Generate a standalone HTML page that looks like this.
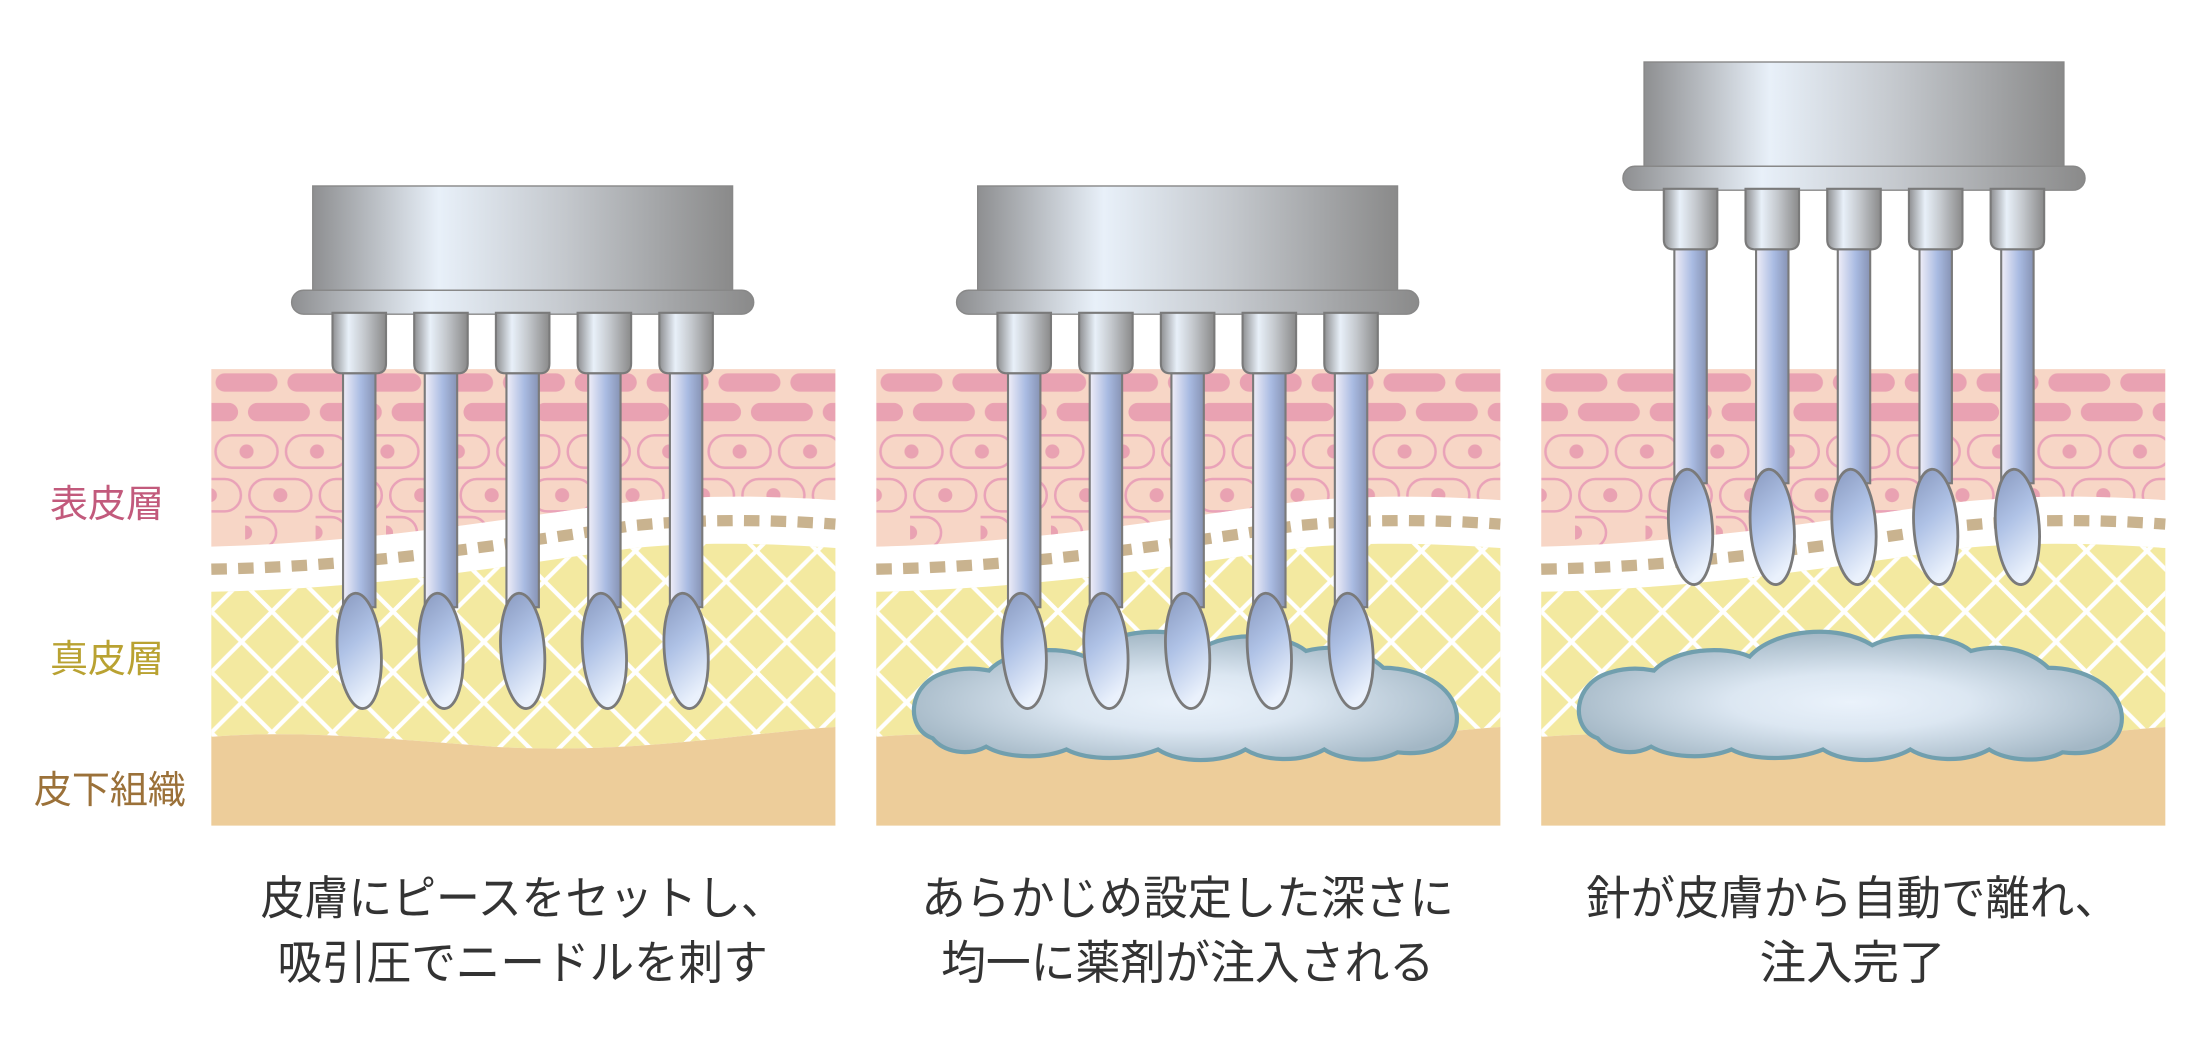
<!DOCTYPE html>
<html><head><meta charset="utf-8"><style>
html,body{margin:0;padding:0;background:#fff;}
svg{display:block;}
</style></head><body>
<svg width="2209" height="1042" viewBox="0 0 1568 739.6" xmlns="http://www.w3.org/2000/svg">
<defs>
<linearGradient id="metal" x1="0" x2="1" y1="0" y2="0">
<stop offset="0" stop-color="#8e8f91"/><stop offset="0.3" stop-color="#e8f0f9"/><stop offset="0.6" stop-color="#c4c8cd"/><stop offset="1" stop-color="#8a8a8a"/>
</linearGradient>
<linearGradient id="shaft" x1="0" x2="1">
<stop offset="0" stop-color="#f0eef8"/><stop offset="0.55" stop-color="#a9bbe2"/><stop offset="1" stop-color="#8793b4"/>
</linearGradient>
<linearGradient id="bevel" x1="0" y1="0" x2="0.3" y2="1">
<stop offset="0" stop-color="#8797bd"/><stop offset="0.5" stop-color="#afc2e6"/><stop offset="1" stop-color="#eaf1fc"/>
</linearGradient>
<radialGradient id="cloudg" cx="0.5" cy="0.55" r="0.55">
<stop offset="0" stop-color="#eaf2fb"/><stop offset="0.4" stop-color="#dce7f2"/><stop offset="1" stop-color="#a3b7c5"/>
</radialGradient>
<pattern id="bars1" width="51" height="40" patternUnits="userSpaceOnUse">
<rect x="3" y="3" width="44" height="13" rx="6.5" fill="#e9a2b2"/>
</pattern>
<pattern id="bars2" x="26" width="51" height="40" patternUnits="userSpaceOnUse">
<rect x="0" y="24" width="44" height="13" rx="6.5" fill="#e9a2b2"/>
</pattern>
<pattern id="cells" width="50" height="200" patternUnits="userSpaceOnUse">
<rect x="3" y="47" width="44" height="23" rx="11.5" fill="none" stroke="#e9a2b8" stroke-width="1.8"/><circle cx="25" cy="58.5" r="5" fill="#e9a2b2"/>
</pattern>
<pattern id="cells2" x="24" width="50" height="200" patternUnits="userSpaceOnUse">
<rect x="3" y="78" width="44" height="23" rx="11.5" fill="none" stroke="#e9a2b8" stroke-width="1.8"/><circle cx="25" cy="89.5" r="5" fill="#e9a2b2"/>
<rect x="-22" y="105" width="44" height="22" rx="11" fill="none" stroke="#e9a2b8" stroke-width="1.8"/><circle cx="0" cy="116" r="5" fill="#e9a2b2"/>
</pattern>
<pattern id="hatch" width="43" height="43" patternUnits="userSpaceOnUse">
<path d="M-5,-5 L48,48 M-5,38 L5,48 M38,-5 L48,5 M48,-5 L-5,48 M5,-5 L-5,5 M48,38 L38,48" stroke="#fff" stroke-width="3"/>
</pattern>
<clipPath id="epiclip"><path d="M0,0 H443 V93 C400,90 350,89 300,94 C220,104 120,123 0,126 Z"/></clipPath>
<g id="skin">
<rect x="0" y="0" width="443" height="324" fill="#fff"/>
<path d="M0,0 H443 V93 C400,90 350,89 300,94 C220,104 120,123 0,126 Z" fill="#f7d6c6"/>
<g clip-path="url(#epiclip)">
<rect x="0" y="0" width="443" height="40" fill="url(#bars1)"/>
<rect x="0" y="0" width="443" height="40" fill="url(#bars2)"/>
<rect x="0" y="0" width="443" height="130" fill="url(#cells)"/>
<rect x="0" y="0" width="443" height="130" fill="url(#cells2)"/>
</g>
<path d="M0,142 C120,140 220,122 300,111 C350,106 400,107 443,110" fill="none" stroke="#c9b38f" stroke-width="8" stroke-dasharray="11 8"/>
<path d="M0,158 C120,156 220,138 300,127 C350,122 400,124 443,127 V254 C380,258 300,274 200,268 C120,262 60,256 0,261 Z" fill="#f3e9a0"/>
<path d="M0,158 C120,156 220,138 300,127 C350,122 400,124 443,127 V254 C380,258 300,274 200,268 C120,262 60,256 0,261 Z" fill="url(#hatch)"/>
<path d="M0,261 C60,256 120,262 200,268 C300,274 380,258 443,254 V324 H0 Z" fill="#edcd9a"/>
</g>
<g id="cloud">
<path d="M40,262 C20,255 22,222 50,215 C60,212 70,212 80,214 C95,198 130,196 148,204 C165,185 210,180 235,196 C255,186 290,188 305,200 C325,195 345,198 360,212 C385,212 410,225 412,245 C414,265 395,275 370,272 C355,280 330,278 318,270 C300,280 275,278 262,270 C245,280 215,280 200,270 C180,278 150,278 135,270 C115,278 90,275 78,268 C65,275 48,272 40,262 Z" fill="url(#cloudg)" stroke="#719fae" stroke-width="3"/>
</g>
<g id="needle">
<path d="M-19,0 H19 V36 Q19,43 12,43 H-12 Q-19,43 -19,36 Z" fill="url(#metal)" stroke="#7a7a7a" stroke-width="1.5"/>
<rect x="-11.5" y="43" width="23" height="166" fill="url(#shaft)" stroke="#7a7a7a" stroke-width="1.5"/>
<ellipse cx="0" cy="240" rx="15.5" ry="41" fill="url(#bevel)" stroke="#7a7a7a" stroke-width="2" transform="rotate(-4 0 240)"/>
</g>
<g id="device">
<rect x="0" y="0" width="298" height="77" fill="url(#metal)" stroke="#888" stroke-width="1"/>
<rect x="-15" y="74" width="328" height="17" rx="8.5" fill="url(#metal)" stroke="#888" stroke-width="1"/>
<use href="#needle" x="33" y="90"/>
<use href="#needle" x="91" y="90"/>
<use href="#needle" x="149" y="90"/>
<use href="#needle" x="207" y="90"/>
<use href="#needle" x="265" y="90"/>
</g>
</defs>

<use href="#skin" x="150" y="262"/>
<use href="#skin" x="622" y="262"/>
<use href="#skin" x="1094" y="262"/>

<use href="#cloud" x="622" y="262"/>
<use href="#cloud" x="1094" y="262"/>

<use href="#device" x="222" y="132"/>
<use href="#device" x="694" y="132"/>
<use href="#device" x="1167" y="44"/>

<g font-family="Liberation Sans, Noto Sans CJK JP, sans-serif" font-size="27">
<text x="76" y="367" text-anchor="middle" fill="#c25a7c">表皮層</text>
<text x="76" y="477" text-anchor="middle" fill="#b9a232">真皮層</text>
<text x="78" y="570" text-anchor="middle" fill="#9b7139">皮下組織</text>
</g>
<g font-family="Liberation Sans, Noto Sans CJK JP, sans-serif" font-size="33" fill="#333" text-anchor="middle">
<text x="371" y="649" textLength="372" lengthAdjust="spacingAndGlyphs">皮膚にピースをセットし、</text>
<text x="371" y="695" textLength="348" lengthAdjust="spacingAndGlyphs">吸引圧でニードルを刺す</text>
<text x="843" y="649" textLength="378" lengthAdjust="spacingAndGlyphs">あらかじめ設定した深さに</text>
<text x="843" y="695" textLength="350" lengthAdjust="spacingAndGlyphs">均一に薬剤が注入される</text>
<text x="1315" y="649" textLength="378" lengthAdjust="spacingAndGlyphs">針が皮膚から自動で離れ、</text>
<text x="1315" y="695" textLength="132" lengthAdjust="spacingAndGlyphs">注入完了</text>
</g>
</svg>
</body></html>
